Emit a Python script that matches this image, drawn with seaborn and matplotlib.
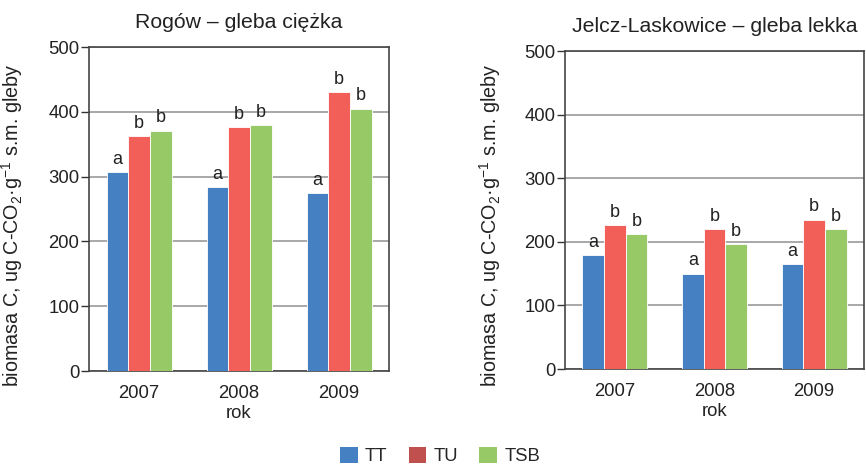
import matplotlib
matplotlib.use("Agg")
import matplotlib.pyplot as plt
import matplotlib.patches as mpatches
import seaborn as sns
import pandas as pd

years = ["2007", "2008", "2009"]
treatments = ["TT", "TU", "TSB"]
rogow = {"TT": [307, 284, 274], "TU": [363, 377, 431], "TSB": [371, 380, 405]}
jelcz = {"TT": [179, 150, 165], "TU": [226, 220, 235], "TSB": [212, 197, 220]}
letters = {"TT": ["a", "a", "a"], "TU": ["b", "b", "b"], "TSB": ["b", "b", "b"]}
titles = ["Rogów – gleba ciężka", "Jelcz-Laskowice – gleba lekka"]
yticks = [0, 100, 200, 300, 400, 500]

bar_colors = {"TT": "#4580C2", "TU": "#F25F58", "TSB": "#97CA66"}
legend_colors = {"TT": "#4580C2", "TU": "#C0504D", "TSB": "#97CA66"}

sns.set_theme(style="white")
plt.rcParams["font.family"] = ["Liberation Sans", "DejaVu Sans"]
plt.rcParams["mathtext.fontset"] = "custom"
plt.rcParams["mathtext.rm"] = "Liberation Sans"
plt.rcParams["mathtext.it"] = "Liberation Sans:italic"
plt.rcParams["mathtext.bf"] = "Liberation Sans:bold"

TXT = "#222222"
fig = plt.figure(figsize=(8.66, 4.66), dpi=100)
ax1 = fig.add_axes([89/866, 95/466, 300/866, 324/466])
ax2 = fig.add_axes([565/866, 97/466, 299/866, 318/466])

def make_df(d):
    rows = []
    for t in treatments:
        for y, v in zip(years, d[t]):
            rows.append({"rok": y, "wariant": t, "val": v})
    return pd.DataFrame(rows)

label_pos = {0: (-0.212, 0.45), 1: (-0.207, 0.453)}

for i, (ax, data, title) in enumerate(zip([ax1, ax2], [rogow, jelcz], titles)):
    df = make_df(data)
    sns.barplot(data=df, x="rok", y="val", hue="wariant", order=years,
                hue_order=treatments, palette=bar_colors, saturation=1,
                width=0.65, gap=0, edgecolor="white", linewidth=0.6,
                ax=ax, legend=False, zorder=3)
    ax.set_ylim(0, 500)
    ax.set_yticks(yticks)
    ax.set_yticklabels([str(t) for t in yticks], fontsize=13.3, color=TXT)
    ax.tick_params(axis="y", which="major", left=True, length=6, width=1,
                   color="#333333", pad=1)
    ax.tick_params(axis="x", bottom=False, labelsize=13.3, labelcolor=TXT, pad=4)
    ax.set_xlabel("rok", fontsize=13.3, color=TXT, labelpad=2)
    ax.set_ylabel("biomasa C, ug C-CO$_\\mathregular{2}$·g$^\\mathregular{-1}$ s.m. gleby",
                  fontsize=14.2, color=TXT)
    ax.yaxis.set_label_coords(*label_pos[i])
    ax.set_title(title, fontsize=15.3, color=TXT, pad=14)
    ax.yaxis.grid(True, color="#999999", linewidth=1.2, zorder=0)
    ax.set_axisbelow(True)
    for s in ax.spines.values():
        s.set_color("#444444")
        s.set_linewidth(1.2)
    for container, t in zip(ax.containers, treatments):
        for bar, lab in zip(container, letters[t]):
            ax.annotate(lab, (bar.get_x() + bar.get_width() / 2, bar.get_height()),
                        xytext=(0, 3), textcoords="offset points",
                        ha="center", va="bottom", fontsize=13, color=TXT)

handles = [mpatches.Patch(facecolor=legend_colors[t], edgecolor="none", label=t) for t in treatments]
fig.legend(handles=handles, loc="center", bbox_to_anchor=(440/866, 1 - 456/466),
           ncol=3, frameon=False, fontsize=13.3, handlelength=0.95, handleheight=0.95,
           handletextpad=0.4, columnspacing=1.15)

fig.savefig("out.png", dpi=100)
